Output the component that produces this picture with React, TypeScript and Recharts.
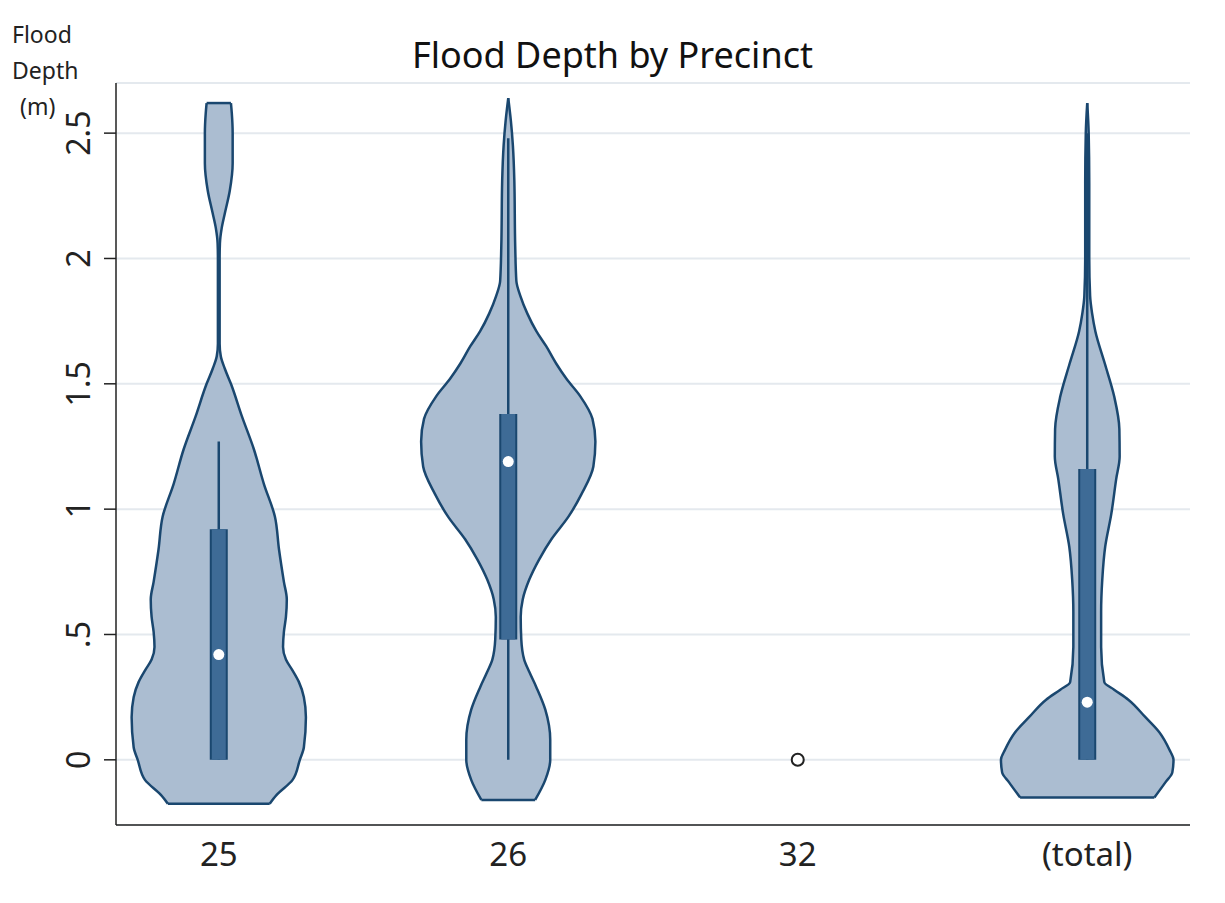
import React from "react";
import { ComposedChart, Area, Line, Scatter, XAxis, YAxis, CartesianGrid } from "recharts";

const categories = ["25", "26", "32", "(total)"];
const categoryPos = [1, 2, 3, 4];
const yTicks = [0, 0.5, 1, 1.5, 2, 2.5];
const yTickLabels = ["0", ".5", "1", "1.5", "2", "2.5"];

// violin outlines: depth (m) and half width of the density (category units)
const v25Depth = [-0.175, -0.14, -0.08, 0, 0.05, 0.17, 0.25, 0.31, 0.36, 0.4, 0.45, 0.51, 0.57, 0.64, 0.71, 0.84, 0.97, 1.1, 1.24, 1.37, 1.5, 1.56, 1.61, 1.66, 1.8, 2.0, 2.06, 2.12, 2.18, 2.27, 2.38, 2.5, 2.58, 2.62];
const v25Half = [0.176, 0.2, 0.255, 0.28, 0.294, 0.301, 0.294, 0.277, 0.253, 0.232, 0.222, 0.225, 0.232, 0.235, 0.225, 0.208, 0.194, 0.156, 0.121, 0.08, 0.042, 0.021, 0.007, 0.003, 0.003, 0.003, 0.004, 0.01, 0.021, 0.038, 0.048, 0.048, 0.045, 0.042];

const v26Depth = [-0.16, -0.08, 0, 0.08, 0.2, 0.29, 0.35, 0.4, 0.48, 0.57, 0.64, 0.72, 0.8, 0.88, 0.97, 1.06, 1.17, 1.27, 1.36, 1.45, 1.52, 1.58, 1.65, 1.71, 1.78, 1.85, 1.91, 2.05, 2.31, 2.45, 2.55, 2.64];
const v26Half = [0.093, 0.128, 0.145, 0.145, 0.128, 0.097, 0.073, 0.055, 0.045, 0.043, 0.05, 0.073, 0.107, 0.149, 0.208, 0.253, 0.294, 0.301, 0.291, 0.249, 0.201, 0.166, 0.131, 0.097, 0.066, 0.042, 0.028, 0.024, 0.021, 0.016, 0.009, 0];

const vTotDepth = [-0.15, -0.09, -0.05, 0, 0.04, 0.11, 0.17, 0.24, 0.28, 0.31, 0.45, 0.59, 0.72, 0.85, 0.98, 1.12, 1.21, 1.32, 1.45, 1.58, 1.71, 1.78, 1.85, 2.0, 2.3, 2.5, 2.62];
const vTotHalf = [0.232, 0.27, 0.294, 0.298, 0.284, 0.249, 0.201, 0.142, 0.093, 0.059, 0.048, 0.048, 0.052, 0.062, 0.083, 0.1, 0.112, 0.111, 0.093, 0.061, 0.028, 0.017, 0.01, 0.007, 0.007, 0.005, 0];

// box stats: [lower whisker, q1, median, q3, upper whisker]
const box25 = [0, 0, 0.42, 0.92, 1.27];
const box26 = [0, 0.48, 1.19, 1.38, 2.48];
const boxTot = [0, 0, 0.23, 1.16, 2.5];

// precinct 32 has a single observation
const single32 = [0];

const NAVY = "#1a476f";
const VIOLIN_FILL = "#abbdd1";
const BOX_FILL = "#3e6b96";
const FONT = '"Noto Sans", "Open Sans", sans-serif';

function violinRows(center: number, depth: number[], half: number[]) {
  return depth.map((y, i) => ({ y, band: [center - half[i], center + half[i]] }));
}

// flat ends of a violin (where the density is cut off with some width left)
function capSets(center: number, depth: number[], half: number[]) {
  const sets: { y: number; x: number }[][] = [];
  [0, depth.length - 1].forEach((i) => {
    if (half[i] > 0.01) {
      sets.push([
        { y: depth[i], x: center - half[i] },
        { y: depth[i], x: center + half[i] },
      ]);
    }
  });
  return sets;
}

const YTick = (props: any) => {
  const { x, y, payload } = props;
  const idx = yTicks.indexOf(payload.value);
  return (
    <g transform={`translate(${x - 12},${y})`}>
      <text transform="rotate(-90)" textAnchor="middle" fontSize={32} fontFamily={FONT} fill="#222">
        {idx >= 0 ? yTickLabels[idx] : payload.value}
      </text>
    </g>
  );
};

const XTick = (props: any) => {
  const { x, y, payload } = props;
  const idx = categoryPos.indexOf(payload.value);
  return (
    <text x={x} y={y} dy={41} textAnchor="middle" fontSize={33} fontFamily={FONT} fill="#222">
      {idx >= 0 ? categories[idx] : ""}
    </text>
  );
};

export default function App() {
  const violins = [
    { key: "v25", rows: violinRows(1, v25Depth, v25Half), caps: capSets(1, v25Depth, v25Half) },
    { key: "v26", rows: violinRows(2, v26Depth, v26Half), caps: capSets(2, v26Depth, v26Half) },
    { key: "vtot", rows: violinRows(4, vTotDepth, vTotHalf), caps: capSets(4, vTotDepth, vTotHalf) },
  ];
  const caps = violins.flatMap((v) => v.caps.map((c, i) => ({ key: v.key + "cap" + i, data: c })));
  const boxes = [
    { key: "b25", c: 1, s: box25 },
    { key: "b26", c: 2, s: box26 },
    { key: "btot", c: 4, s: boxTot },
  ];

  return (
    <div style={{ position: "absolute", left: 0, top: 0, width: 1225, height: 903, background: "#fff", fontFamily: FONT }}>
      <div style={{ position: "absolute", top: 33, left: 0, width: 1225, textAlign: "center", fontSize: 36, lineHeight: "44px", color: "#111" }}>
        Flood Depth by Precinct
      </div>
      <div style={{ position: "absolute", top: 16, left: 12, fontSize: 23, lineHeight: "36px", color: "#222" }}>
        Flood
        <br />
        Depth
        <br />
        <span style={{ paddingLeft: 8 }}>(m)</span>
      </div>
      <ComposedChart layout="vertical" width={1225} height={903} margin={{ top: 83, right: 35, bottom: 38, left: 0 }}>
        <CartesianGrid horizontal vertical={false} stroke="#e4e9ee" strokeWidth={2} />
        <XAxis
          type="number"
          domain={[0.645, 4.355]}
          ticks={categoryPos}
          allowDataOverflow
          tick={<XTick />}
          tickLine={false}
          tickSize={0}
          tickMargin={0}
          axisLine={{ stroke: "#222", strokeWidth: 1.5 }}
          height={40}
        />
        <YAxis
          type="number"
          dataKey="y"
          domain={[-0.26, 2.7]}
          reversed
          allowDataOverflow
          ticks={yTicks}
          tick={<YTick />}
          tickSize={12}
          tickMargin={2}
          tickLine={{ stroke: "#222", strokeWidth: 1.5 }}
          axisLine={{ stroke: "#222", strokeWidth: 1.5 }}
          width={116}
        />
        {violins.map((v) => (
          <Area
            key={v.key}
            data={v.rows}
            dataKey="band"
            type="monotone"
            fill={VIOLIN_FILL}
            fillOpacity={1}
            stroke={NAVY}
            strokeWidth={2.5}
            isAnimationActive={false}
            activeDot={false}
            dot={false}
          />
        ))}
        {caps.map((c) => (
          <Line
            key={c.key}
            data={c.data}
            dataKey="x"
            type="linear"
            stroke={NAVY}
            strokeWidth={2.5}
            dot={false}
            activeDot={false}
            isAnimationActive={false}
          />
        ))}
        {boxes.map((b) => (
          <Line
            key={b.key + "w"}
            data={[{ y: b.s[0], x: b.c }, { y: b.s[4], x: b.c }]}
            dataKey="x"
            type="linear"
            stroke={NAVY}
            strokeWidth={2.5}
            dot={false}
            activeDot={false}
            isAnimationActive={false}
          />
        ))}
        {boxes.map((b) => (
          <Line
            key={b.key + "o"}
            data={[{ y: b.s[1], x: b.c }, { y: b.s[3], x: b.c }]}
            dataKey="x"
            type="linear"
            stroke={NAVY}
            strokeWidth={18}
            strokeLinecap="butt"
            dot={false}
            activeDot={false}
            isAnimationActive={false}
          />
        ))}
        {boxes.map((b) => (
          <Line
            key={b.key + "i"}
            data={[{ y: b.s[1], x: b.c }, { y: b.s[3], x: b.c }]}
            dataKey="x"
            type="linear"
            stroke={BOX_FILL}
            strokeWidth={14}
            strokeLinecap="butt"
            dot={false}
            activeDot={false}
            isAnimationActive={false}
          />
        ))}
        <Scatter
          data={boxes.map((b) => ({ x: b.c, y: b.s[2] }))}
          dataKey="x"
          isAnimationActive={false}
          shape={(p: any) => <circle cx={p.cx} cy={p.cy} r={5.5} fill="#fff" />}
        />
        <Scatter
          data={single32.map((y) => ({ x: 3, y }))}
          dataKey="x"
          isAnimationActive={false}
          shape={(p: any) => <circle cx={p.cx} cy={p.cy} r={6} fill="#fff" stroke="#222" strokeWidth={2} />}
        />
      </ComposedChart>
    </div>
  );
}
